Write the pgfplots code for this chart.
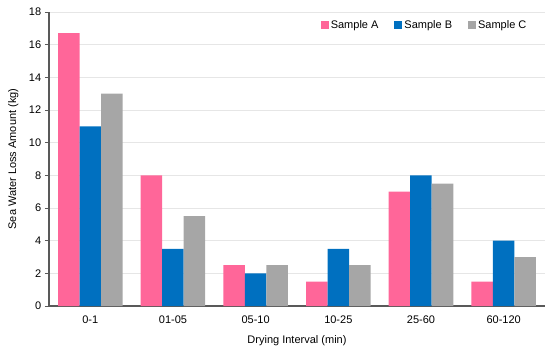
\documentclass[border=0pt]{standalone}
\usepackage{fontspec}
\setmainfont{Liberation Sans}
\usepackage{pgfplots}
\pgfplotsset{compat=1.18}
\definecolor{cA}{HTML}{FF6699}
\definecolor{cB}{HTML}{0070C0}
\definecolor{cC}{HTML}{A6A6A6}
\definecolor{gridc}{HTML}{E6E6E6}
\definecolor{axc}{HTML}{595959}
\begin{document}
\fontsize{11bp}{13bp}\selectfont
\begin{tikzpicture}
\path[use as bounding box] (-49bp,-45bp) rectangle (501bp,306bp);
\begin{axis}[
  at={(0,0)}, anchor=south west,
  scale only axis, width=496bp, height=294bp,
  ybar=0pt, bar width=21.5bp,
  xmin=-0.5, xmax=5.5, ymin=0, ymax=18,
  xtick={0,1,2,3,4,5},
  xticklabels={0-1,01-05,05-10,10-25,25-60,60-120},
  ytick={0,2,...,18},
  major x tick style={draw=none},
  ytick style={axc, line width=0.8bp},
  tick align=outside, major tick length=4bp,
  ymajorgrids, grid style={gridc, line width=0.8bp},
  axis x line*=bottom, axis y line*=left,
  axis line style={axc, line width=1.2bp, -},
  x axis line style={line width=1.5bp},
  /pgf/number format/assume math mode=true,
  tick label style={font=\fontsize{11bp}{13bp}\selectfont, black},
  xticklabel style={yshift=-2bp},
  label style={font=\fontsize{11bp}{13bp}\selectfont},
  xlabel={Drying Interval (min)},
  ylabel={Sea Water Loss Amount (kg)},
  xlabel style={yshift=-4bp},
  ylabel style={yshift=3bp},
  legend style={draw=none, fill=white, at={(0.973,0.985)}, anchor=north east,
    legend columns=3, font=\fontsize{11bp}{13bp}\selectfont,
    /tikz/every even column/.append style={column sep=14bp}},
  legend image code/.code={\fill[#1] (0bp,-4bp) rectangle (8bp,4bp);},
]
\addplot[fill=cA, draw=none] coordinates {(0,16.7) (1,8) (2,2.5) (3,1.5) (4,7) (5,1.5)};
\addplot[fill=cB, draw=none] coordinates {(0,11) (1,3.5) (2,2) (3,3.5) (4,8) (5,4)};
\addplot[fill=cC, draw=none] coordinates {(0,13) (1,5.5) (2,2.5) (3,2.5) (4,7.5) (5,3)};
\legend{Sample A, Sample B, Sample C}
\end{axis}
\end{tikzpicture}
\end{document}
